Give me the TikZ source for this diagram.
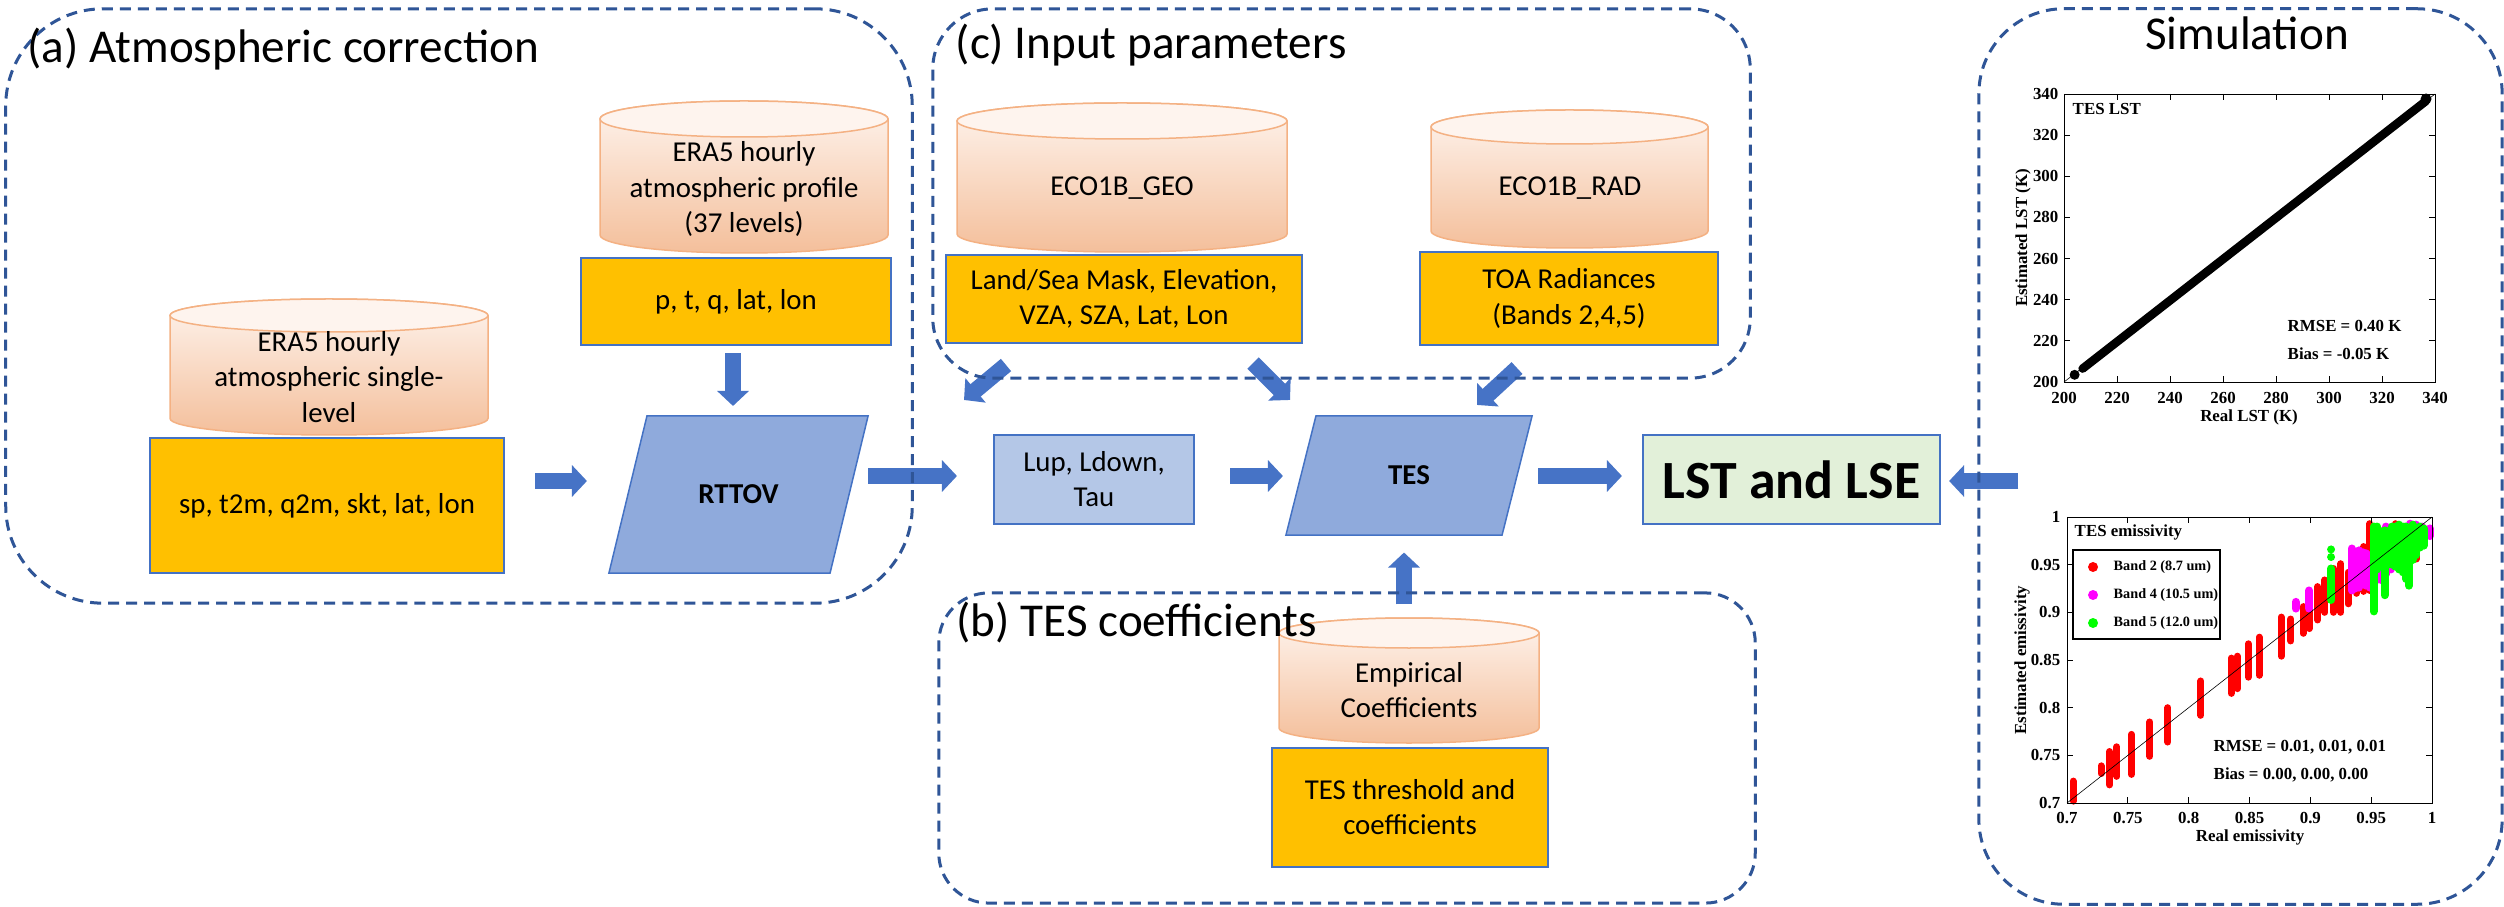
\documentclass[tikz,border=0pt]{standalone}
\usepackage{fontspec}
\setmainfont{Carlito}
\newfontfamily\tnr{Liberation Serif}
\usetikzlibrary{arrows.meta,calc,backgrounds}
\pgfdeclarelayer{front}
\pgfsetlayers{background,main,front}
\definecolor{orangeF}{HTML}{FFC000}
\definecolor{edgeB}{HTML}{4472C4}
\definecolor{paraF}{HTML}{8FAADC}
\definecolor{lupF}{HTML}{B4C7E7}
\definecolor{lstF}{HTML}{E2F0D9}
\definecolor{dashC}{HTML}{2F5597}
\definecolor{arrC}{HTML}{4673C6}
\definecolor{cylA}{HTML}{FEF4EE}
\definecolor{cylB}{HTML}{F9D8C2}
\definecolor{cylC}{HTML}{F4BF9B}
\definecolor{cylL}{HTML}{F4B183}
\definecolor{ptRed}{HTML}{FF0000}
\definecolor{ptMag}{HTML}{FF00FF}
\definecolor{ptGrn}{HTML}{00FF00}
\newcommand\bodyfont{\fontsize{8.2}{10}\selectfont}
\newcommand\titlefont{\fontsize{13.4}{16}\selectfont}
\newcommand\lstfont{\fontsize{15.3}{18}\selectfont\bfseries}
\newcommand\plotfont{\tnr\bfseries\fontsize{4.8}{5.7}\selectfont}
\newcommand\legfont{\tnr\bfseries\fontsize{4.05}{4.8}\selectfont}
% cylinder: x1, x2, ytop, ybot, ry  (pixel values, y measured downward)
\newcommand\mycyl[5]{%
  \path[draw=cylL, line width=0.015cm, top color=cylA, middle color=cylB, bottom color=cylC]
    (#1,{-(#3)-(#5)}) -- (#1,{-(#4)+(#5)})
    arc[start angle=180,end angle=360,x radius={((#2)-(#1))/2},y radius=#5]
    -- (#2,{-(#3)-(#5)})
    arc[start angle=0,end angle=180,x radius={((#2)-(#1))/2},y radius=#5] -- cycle;
  \draw[cylL, line width=0.015cm, fill=cylA] ({((#1)+(#2))/2},{-(#3)-(#5)})
    ellipse[x radius={((#2)-(#1))/2},y radius=#5];
}
\begin{document}
\begin{tikzpicture}[x=0.01cm,y=0.01cm,
  txt/.style={align=center,inner sep=0pt,outer sep=0pt,font=\bodyfont},
  obox/.style={txt,draw=edgeB,fill=orangeF,line width=0.015cm},
  lbox/.style={txt,draw=edgeB,line width=0.015cm},
  para/.style={draw=edgeB,fill=paraF,line width=0.015cm},
  barrow/.style={draw=arrC,line width=0.16cm,-{Triangle[length=0.15cm,width=0.31cm]}},
  dbox/.style={draw=dashC,line width=0.03cm,dash pattern=on 0.11cm off 0.07cm,inner sep=0pt},
  ttl/.style={inner sep=0pt,font=\titlefont},
  pf/.style={inner sep=0pt,font=\plotfont},
  lf/.style={inner sep=0pt,font=\legfont},
  pline/.style={line width=0.009cm,black},
  rb/.style={ptRed,line width=0.07cm,line cap=round},
  mb/.style={ptMag,line width=0.08cm,line cap=round},
  gb/.style={ptGrn,line width=0.08cm,line cap=round}]
\useasboundingbox (0,0) rectangle (2504,-907);

% ---------- main nodes ----------
\node[obox,minimum width=3.10cm,minimum height=0.87cm] (ptq) at (736,-301.5) {p, t, q, lat, lon};
\node[obox,minimum width=3.54cm,minimum height=1.35cm] (sp) at (327,-505.5) {sp, t2m, q2m, skt, lat, lon};
\node[obox,minimum width=3.56cm,minimum height=0.88cm] (land) at (1124,-299) {Land/Sea Mask, Elevation,\\VZA, SZA, Lat, Lon};
\node[obox,minimum width=2.98cm,minimum height=0.93cm] (toa) at (1569,-298.5) {TOA Radiances\\(Bands 2,4,5)};
\node[obox,minimum width=2.76cm,minimum height=1.19cm] (thr) at (1410,-807.5) {TES threshold and\\coefficients};
\node[lbox,fill=lupF,minimum width=2.00cm,minimum height=0.89cm] (lup) at (1094,-479.5) {Lup, Ldown,\\Tau};
\node[lbox,fill=lstF,minimum width=2.97cm,minimum height=0.89cm,font=\lstfont] (lst) at (1791.5,-479.5) {LST and LSE};
\node[txt,font=\bodyfont\bfseries,minimum width=2.59cm,minimum height=1.57cm] (rttov) at (738.5,-494.5) {RTTOV};
\node[txt,font=\bodyfont\bfseries,minimum width=2.46cm,minimum height=1.19cm] (tes) at (1409,-475.5) {TES};

% cylinder texts
\node[txt] (tP) at (744,-189) {ERA5 hourly\\atmospheric profile\\(37 levels)};
\node[txt] (tS) at (329,-377) {ERA5 hourly\\atmospheric single-\\level};
\node[txt] (tG) at (1122,-188) {ECO1B\_GEO};
\node[txt] (tR) at (1570,-188) {ECO1B\_RAD};
\node[txt] (tE) at (1409,-690) {Empirical\\Coefficients};

% ---------- background shapes ----------
\begin{pgfonlayer}{background}
\fill[white] (0,0) rectangle (2504,-907);
\mycyl{600}{888}{101}{253}{18}
\mycyl{170}{488}{299}{435}{16.5}
\mycyl{957}{1287}{103}{252}{18}
\mycyl{1431}{1708}{110}{248}{17}
\mycyl{1279}{1539}{618}{743}{15}
\draw[para] ([xshift=0.38cm]rttov.north west) -- (rttov.north east) -- ([xshift=-0.38cm]rttov.south east) -- (rttov.south west) -- cycle;
\draw[para] ([xshift=0.30cm]tes.north west) -- (tes.north east) -- ([xshift=-0.30cm]tes.south east) -- (tes.south west) -- cycle;
\end{pgfonlayer}

% ---------- dashed group boxes and titles ----------
\begin{pgfonlayer}{front}
\node[dbox,rounded corners=0.97cm,minimum width=9.06cm,minimum height=5.94cm] (boxA) at (459,-306) {};
\node[dbox,rounded corners=0.60cm,minimum width=8.17cm,minimum height=3.69cm] (boxC) at (1341.5,-193.5) {};
\node[dbox,rounded corners=0.50cm,minimum width=8.16cm,minimum height=3.10cm] (boxB) at (1347,-748) {};
\node[dbox,rounded corners=0.85cm,minimum width=5.23cm,minimum height=8.95cm] (sim) at (2240.5,-456.5) {};
\node[ttl,anchor=west] (ttlA) at (27,-49) {(a) Atmospheric correction};
\node[ttl,anchor=west] (ttlC) at (955,-45) {(c) Input parameters};
\node[ttl,anchor=west] (ttlB) at (956,-623) {(b) TES coefficients};
\node[ttl] (ttlS) at (2247,-33) {Simulation};
\end{pgfonlayer}

% ---------- block arrows ----------
\draw[barrow] ($(sp.east)+(31,24.5)$) -- ($(rttov.west)+(-22,13.5)$);
\draw[barrow] ($(ptq.south)+(-3,-8)$) -- ($(rttov.north)+(-5.5,10)$);
\draw[barrow] ($(rttov.east)+(0,18.5)$) -- ($(lup.west)+(-37,3.5)$);
\draw[barrow] ($(lup.east)+(36,3.5)$) -- ($(tes.west)+(-3,-0.5)$);
\draw[barrow] ($(tes.east)+(6,-0.5)$) -- ($(lst.west)+(-21,3.5)$);
\draw[barrow] ($(boxB.north)+(57,-13)$) -- ($(tes.south)+(-5,-17.5)$);
\draw[barrow] ($(land.south)+(-118,-22)$) -- ($(lup.north)+(-130,35)$);
\draw[barrow] ($(land.south)+(129,-20)$) -- ($(tes.north)+(-119,16)$);
\draw[barrow] ($(toa.south)+(-52,-23)$) -- ($(tes.north)+(68,11)$);
\draw[barrow] ($(sim.west)+(41,-24.5)$) -- ($(lst.east)+(9,-1.5)$);

% ---------- plot 1: TES LST ----------
\draw[line width=0.006cm] (2064,-382) -- (2435,-94);
\draw[line width=0.085cm,line cap=round] (2082.6,-368.6) -- (2425.7,-101.2);
\fill (2074.6,-374.8) circle[radius=5];
\fill (2426,-99) circle[radius=5.5];
\draw[pline] (2064,-94) rectangle (2435,-382);
\foreach \v [count=\i] in {200,220,...,340}{
  \pgfmathsetmacro\xx{2064+(\v-200)*2.65}
  \pgfmathsetmacro\yy{-382+(\v-200)*2.05714}
  \draw[pline] (\xx,-382) -- ++(0,6) (\xx,-94) -- ++(0,-6) (2064,\yy) -- ++(6,0) (2435,\yy) -- ++(-6,0);
  \node[pf] (lxa\i) at (\xx,-398) {\v};
  \node[pf,anchor=east] (lya\i) at (2059,\yy) {\v};
}
\node[pf] (xlabA) at (2249,-417) {Real LST (K)};
\node[pf,rotate=90] (ylabA) at (2023,-238) {Estimated LST (K)};
\node[pf,anchor=west] (ptA) at (2072,-109) {TES LST};
\node[pf,anchor=west] (rmA) at (2287,-326) {RMSE = 0.40 K};
\node[pf,anchor=west] (biA) at (2287,-354) {Bias = -0.05 K};

% ---------- plot 2: TES emissivity ----------
\begin{scope}[shift={(2067,-803)},xscale=1216.67,yscale=953.33]
\foreach \a/\b/\c in {0.705/0.702/0.723,0.728/0.731/0.739,0.735/0.719/0.754,0.741/0.728/0.759,
  0.753/0.730/0.772,0.768/0.749/0.785,0.783/0.764/0.800,0.810/0.792/0.828,0.835/0.815/0.852,
  0.840/0.820/0.854,0.849/0.832/0.867,0.858/0.834/0.874,0.876/0.854/0.895,0.884/0.870/0.893,
  0.894/0.878/0.906,0.899/0.883/0.916,0.906/0.892/0.927,0.912/0.900/0.934,0.919/0.900/0.946,
  0.925/0.900/0.951,0.931/0.909/0.942,0.938/0.920/0.958,0.944/0.922/0.969,0.949/0.923/0.993,
  0.957/0.951/0.976,0.970/0.969/0.993,0.987/0.956/0.979,0.992/0.975/0.990}
  \draw[rb] ({\a-0.7},{\b-0.7}) -- ({\a-0.7},{\c-0.7});
\foreach \a/\b/\c in {0.888/0.904/0.911,0.899/0.904/0.923,0.934/0.923/0.967,0.937/0.925/0.962,
  0.940/0.926/0.965,0.943/0.930/0.963,0.946/0.928/0.962,0.949/0.926/0.960,0.953/0.932/0.975,
  0.958/0.934/0.985,0.962/0.940/0.990,0.966/0.945/0.988,0.970/0.950/0.990,0.974/0.955/0.988,
  0.978/0.960/0.990,0.982/0.972/0.993,0.987/0.975/0.992,0.992/0.976/0.990,0.998/0.980/0.988}
  \draw[mb] ({\a-0.7},{\b-0.7}) -- ({\a-0.7},{\c-0.7});
\foreach \a/\b/\c in {0.917/0.913/0.946,0.917/0.958/0.958,0.917/0.966/0.966,0.952/0.901/0.990,
  0.955/0.945/0.990,0.958/0.950/0.985,0.961/0.918/0.986,0.964/0.950/0.985,0.967/0.950/0.990,
  0.970/0.948/0.990,0.973/0.945/0.992,0.976/0.942/0.990,0.979/0.935/0.990,0.981/0.928/0.975,
  0.984/0.955/0.992,0.987/0.960/0.988,0.990/0.968/0.990,0.993/0.970/0.988}
  \draw[gb] ({\a-0.7},{\b-0.7}) -- ({\a-0.7},{\c-0.7});
\draw[line width=0.006cm] (0,0) -- (0.3,0.3);
\end{scope}
\draw[pline] (2067,-517) rectangle (2432,-803);
\foreach \v/\l [count=\i] in {0.7/0.7,0.75/0.75,0.8/0.8,0.85/0.85,0.9/0.9,0.95/0.95,1/1}{
  \pgfmathsetmacro\xx{2067+(\v-0.7)*1216.67}
  \pgfmathsetmacro\yy{-803+(\v-0.7)*953.33}
  \draw[pline] (\xx,-803) -- ++(0,6) (\xx,-517) -- ++(0,-6) (2067,\yy) -- ++(6,0) (2432,\yy) -- ++(-6,0);
  \node[pf] (lxb\i) at (\xx,-818) {\l};
  \node[pf,anchor=east] (lyb\i) at (2061,\yy) {\l};
}
\node[pf] (xlabB) at (2250,-837) {Real emissivity};
\node[pf,rotate=90] (ylabB) at (2022,-660) {Estimated emissivity};
\node[pf,anchor=west] (ptB) at (2074,-532) {TES emissivity};
\draw[line width=0.013cm,fill=white] (2073,-550) rectangle (2220,-639);
\fill[ptRed] (2093,-567) circle[radius=5];
\fill[ptMag] (2093,-595) circle[radius=5];
\fill[ptGrn] (2093,-623) circle[radius=5];
\node[lf,anchor=west] (lg1) at (2113,-567) {Band 2 (8.7 um)};
\node[lf,anchor=west] (lg2) at (2113,-595) {Band 4 (10.5 um)};
\node[lf,anchor=west] (lg3) at (2113,-623) {Band 5 (12.0 um)};
\node[pf,anchor=west] (rmB) at (2213,-747) {RMSE = 0.01, 0.01, 0.01};
\node[pf,anchor=west] (biB) at (2213,-775) {Bias = 0.00, 0.00, 0.00};
\end{tikzpicture}
\end{document}
